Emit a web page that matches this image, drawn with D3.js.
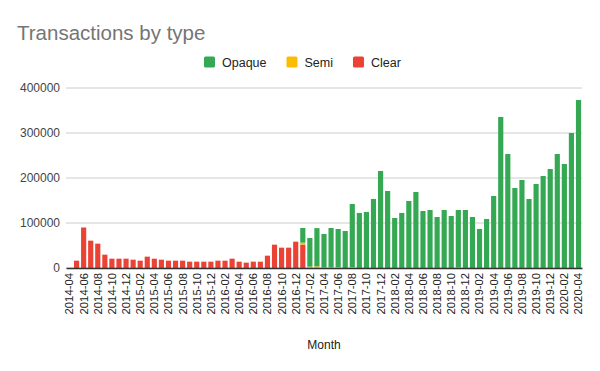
<!DOCTYPE html>
<html>
<head>
<meta charset="utf-8">
<script src="https://cdnjs.cloudflare.com/ajax/libs/d3/7.8.5/d3.min.js"></script>
<style>
  body { margin: 0; background: #fff; }
  svg { font-family: "Liberation Sans", Arial, sans-serif; }
</style>
</head>
<body>
<svg></svg>
<script>
const months = [
  "2014-04", "2014-05", "2014-06", "2014-07", "2014-08", "2014-09", "2014-10", "2014-11", "2014-12",
  "2015-01", "2015-02", "2015-03", "2015-04", "2015-05", "2015-06", "2015-07", "2015-08", "2015-09",
  "2015-10", "2015-11", "2015-12", "2016-01", "2016-02", "2016-03", "2016-04", "2016-05", "2016-06",
  "2016-07", "2016-08", "2016-09", "2016-10", "2016-11", "2016-12", "2017-01", "2017-02", "2017-03",
  "2017-04", "2017-05", "2017-06", "2017-07", "2017-08", "2017-09", "2017-10", "2017-11", "2017-12",
  "2018-01", "2018-02", "2018-03", "2018-04", "2018-05", "2018-06", "2018-07", "2018-08", "2018-09",
  "2018-10", "2018-11", "2018-12", "2019-01", "2019-02", "2019-03", "2019-04", "2019-05", "2019-06",
  "2019-07", "2019-08", "2019-09", "2019-10", "2019-11", "2019-12", "2020-01", "2020-02", "2020-03",
  "2020-04"
];

const opaque = [
  0, 0, 0, 0, 0, 0, 0, 0, 0,
  0, 0, 0, 0, 0, 0, 0, 0, 0,
  0, 0, 0, 0, 0, 0, 0, 0, 0,
  0, 0, 0, 0, 0, 0, 32600, 63700, 84900,
  74600, 87400, 85200, 82200, 140800, 122300, 124500, 153400, 215600,
  171100, 111100, 122300, 148900, 168900, 126700, 128900, 113300, 128900,
  115600, 127900, 128900, 113300, 86700, 108900, 160000, 335600, 253300,
  177800, 195600, 153300, 186700, 204400, 220000, 253300, 231100, 300000,
  373300
];

const semi = [
  0, 0, 0, 0, 0, 0, 0, 0, 0,
  0, 0, 0, 0, 0, 0, 0, 0, 0,
  0, 0, 0, 0, 0, 0, 0, 0, 0,
  0, 0, 0, 0, 0, 0, 4400, 3000, 3700,
  1000, 1500, 1500, 0, 1500, 0, 0, 0, 0,
  0, 0, 0, 0, 0, 0, 0, 0, 0,
  0, 1000, 0, 0, 0, 0, 0, 0, 0,
  0, 0, 0, 0, 0, 0, 0, 0, 0,
  0
];

const clear = [
  0, 16300, 90000, 60800, 54100, 29600, 20700, 20700, 20700,
  18500, 16300, 25200, 20700, 18500, 16300, 16300, 16300, 14100,
  14100, 14100, 14100, 16300, 16300, 20700, 14100, 11900, 14100,
  14100, 27400, 51900, 45200, 45200, 58500, 51900, 0, 0,
  0, 0, 0, 0, 0, 0, 0, 0, 0,
  0, 0, 0, 0, 0, 0, 0, 0, 0,
  0, 0, 0, 0, 0, 0, 0, 0, 0,
  0, 0, 0, 0, 0, 0, 0, 0, 0,
  0
];

const yTicks = [0, 100000, 200000, 300000, 400000];
const seriesNames = ["Opaque", "Semi", "Clear"];
const colors = { Opaque: "#34a853", Semi: "#fbbc04", Clear: "#ea4335" };

const width = 600;
const height = 371;
const margin = { top: 88, right: 18, bottom: 103, left: 66 };
const svg = d3.select("svg").attr("width", width).attr("height", height);

const rows = months.map((m, i) => ({ month: m, Opaque: opaque[i], Semi: semi[i], Clear: clear[i] }));

// stack order bottom to top: clear, semi, opaque
const stack = d3.stack().keys(["Clear", "Semi", "Opaque"]);
const layers = stack(rows);

const xScale = d3.scaleBand()
  .domain(months)
  .range([margin.left, width - margin.right])
  .paddingInner(0.27)
  .paddingOuter(0.13);

const yScale = d3.scaleLinear()
  .domain([0, 400000])
  .range([height - margin.bottom, margin.top]);

// gridlines
svg.append("g")
  .selectAll("line")
  .data(yTicks)
  .enter()
  .append("line")
  .attr("x1", margin.left)
  .attr("x2", width - margin.right)
  .attr("y1", (d) => yScale(d))
  .attr("y2", (d) => yScale(d))
  .attr("stroke", "#cccccc")
  .attr("stroke-width", 1);

// y axis labels
const yAxis = d3.axisLeft(yScale).tickValues(yTicks).tickSize(0).tickPadding(6).tickFormat(d3.format("d"));
svg.append("g")
  .attr("transform", "translate(" + (margin.left) + ",0)")
  .call(yAxis)
  .call((g) => g.select(".domain").remove())
  .selectAll("text")
  .attr("font-size", 12)
  .attr("fill", "#444444")
  .attr("font-family", "Liberation Sans, Arial, sans-serif");

// bars
svg.append("g")
  .selectAll("g")
  .data(layers)
  .enter()
  .append("g")
  .attr("fill", (layer) => colors[layer.key])
  .selectAll("rect")
  .data((layer) => layer)
  .enter()
  .append("rect")
  .attr("x", (d) => xScale(d.data.month))
  .attr("width", xScale.bandwidth())
  .attr("y", (d) => yScale(d[1]))
  .attr("height", (d) => yScale(d[0]) - yScale(d[1]));

// x axis
const xAxis = d3.axisBottom(xScale)
  .tickValues(months.filter((m, i) => i % 2 === 0))
  .tickSize(0)
  .tickPadding(0);

const xg = svg.append("g")
  .attr("transform", "translate(0," + yScale(0) + ")")
  .call(xAxis);
xg.select(".domain").attr("stroke", "#333333").attr("stroke-width", 1.3);
xg.selectAll("text")
  .attr("font-size", 11.3)
  .attr("fill", "#222222")
  .attr("font-family", "Liberation Sans, Arial, sans-serif")
  .attr("text-anchor", "end")
  .attr("dy", "0.35em")
  .attr("transform", "translate(0,5) rotate(-90)")
  .attr("x", 0)
  .attr("y", 0);

// axis title
svg.append("text")
  .attr("x", (margin.left + width - margin.right) / 2)
  .attr("y", 349)
  .attr("text-anchor", "middle")
  .attr("font-size", 12)
  .attr("fill", "#222222")
  .text("Month");

// chart title
svg.append("text")
  .attr("x", 17)
  .attr("y", 40)
  .attr("font-size", 20.5)
  .attr("fill", "#757575")
  .text("Transactions by type");

// legend
const legend = svg.append("g").attr("transform", "translate(204,62)");
let lx = 0;
seriesNames.forEach((name) => {
  const item = legend.append("g").attr("transform", "translate(" + lx + ",0)");
  item.append("rect")
    .attr("x", 0)
    .attr("y", -5.5)
    .attr("width", 11)
    .attr("height", 11)
    .attr("rx", 1.5)
    .attr("fill", colors[name]);
  const t = item.append("text")
    .attr("x", 18)
    .attr("y", 4.5)
    .attr("font-size", 12.5)
    .attr("fill", "#222222")
    .text(name);
  lx += 18 + t.node().getComputedTextLength() + 20;
});
</script>
</body>
</html>
